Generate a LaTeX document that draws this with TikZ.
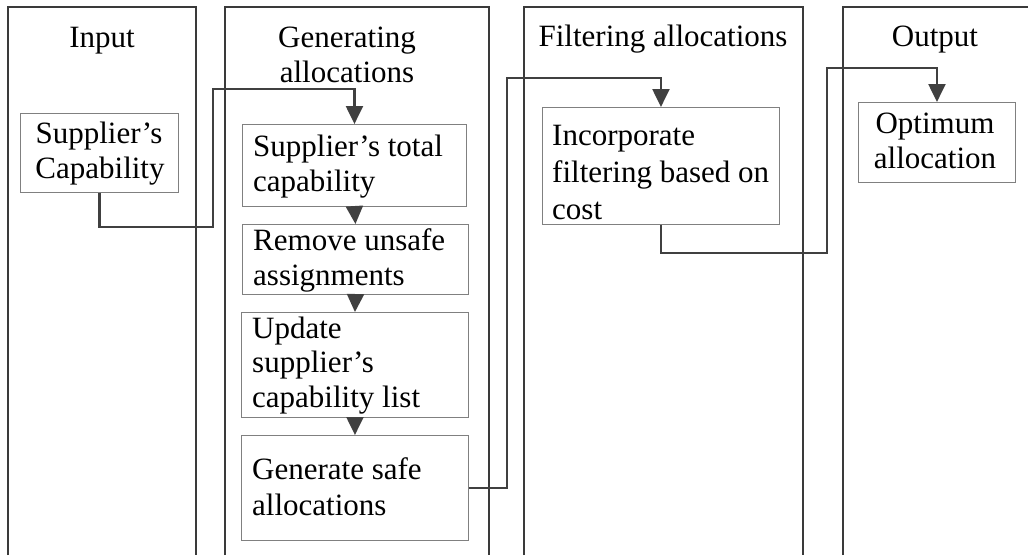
\documentclass[tikz,border=0pt]{standalone}
\usepackage{fontspec}
\setmainfont{Liberation Serif}
\usetikzlibrary{arrows.meta}
\definecolor{lanecol}{HTML}{3A3A3A}
\definecolor{boxcol}{HTML}{808080}
\definecolor{flowcol}{HTML}{404040}
\tikzset{
  lane/.style={draw=lanecol, line width=1.1pt},
  stepbox/.style={draw=boxcol, line width=0.9pt, anchor=north west, inner sep=0pt},
  txt/.style={inner sep=0pt, font=\fontsize{31}{35}\selectfont},
  flow/.style={draw=flowcol, line width=2.2pt, miter limit=10,
    -{Triangle[length=18pt,width=17pt]}},
}
\begin{document}
\begin{tikzpicture}[x=1pt, y=-1pt]
\useasboundingbox (0,0) rectangle (1028,555);

% swim lanes
\draw[lane] (8,555) -- (8,7) -- (196,7) -- (196,555);
\draw[lane] (225,555) -- (225,7) -- (489,7) -- (489,555);
\draw[lane] (524,555) -- (524,7) -- (803,7) -- (803,555);
\draw[lane] (843,555) -- (843,7) -- (1028,7);

% lane titles
\node[txt, anchor=base] (tIn) at (102,47) {Input};
\node[txt, anchor=base] (tGen1) at (347,47) {Generating};
\node[txt, anchor=base] (tGen2) at (347,82) {allocations};
\node[txt, anchor=base] (tFil) at (663,46) {Filtering allocations};
\node[txt, anchor=base] (tOut) at (935,46) {Output};

% process boxes
\node[stepbox, minimum width=158pt, minimum height=79pt] (cap) at (20,113) {};
\node[stepbox, minimum width=224pt, minimum height=82pt] (tot) at (242,124) {};
\node[stepbox, minimum width=226pt, minimum height=70pt] (rem) at (242,224) {};
\node[stepbox, minimum width=227pt, minimum height=105pt] (upd) at (241,312) {};
\node[stepbox, minimum width=227pt, minimum height=105pt] (gen) at (241,435) {};
\node[stepbox, minimum width=237pt, minimum height=117pt] (inc) at (542,107) {};
\node[stepbox, minimum width=157pt, minimum height=80pt] (opt) at (858,102) {};

% box texts
\node[txt, anchor=base] (capA) at (99,143) {Supplier’s};
\node[txt, anchor=base] (capB) at (100,178) {Capability};
\node[txt, anchor=base west] (totA) at (253,156) {Supplier’s total};
\node[txt, anchor=base west] (totB) at (253,191) {capability};
\node[txt, anchor=base west] (remA) at (253,250) {Remove unsafe};
\node[txt, anchor=base west] (remB) at (253,285) {assignments};
\node[txt, anchor=base west] (updA) at (252,338) {Update};
\node[txt, anchor=base west] (updB) at (252,372) {supplier’s};
\node[txt, anchor=base west] (updC) at (252,407) {capability list};
\node[txt, anchor=base west] (genA) at (252,479) {Generate safe};
\node[txt, anchor=base west] (genB) at (252,515) {allocations};
\node[txt, anchor=base west] (incA) at (552,145) {Incorporate};
\node[txt, anchor=base west] (incB) at (552,182) {filtering based on};
\node[txt, anchor=base west] (incC) at (552,219) {cost};
\node[txt, anchor=base] (optA) at (935,133) {Optimum};
\node[txt, anchor=base] (optB) at (935,168) {allocation};

% bend points of the long connectors
\coordinate (b1) at (213,227);
\coordinate (t1) at (213,89);
\coordinate (t3) at (507,78);
\coordinate (b4) at (827,253);
\coordinate (t4) at (827,68);

% connectors
\draw[flow] (cap.south) |- (b1) -- (t1) -| (tot.north);
\draw[flow] (tot.south) -- (rem.north);
\draw[flow] (rem.south) -- (upd.north);
\draw[flow] (upd.south) -- (gen.north);
\draw[flow] (gen.east) -| (t3) -| (inc.north);
\draw[flow] (inc.south) |- (b4) -- (t4) -| (opt.north);
\end{tikzpicture}
\end{document}
